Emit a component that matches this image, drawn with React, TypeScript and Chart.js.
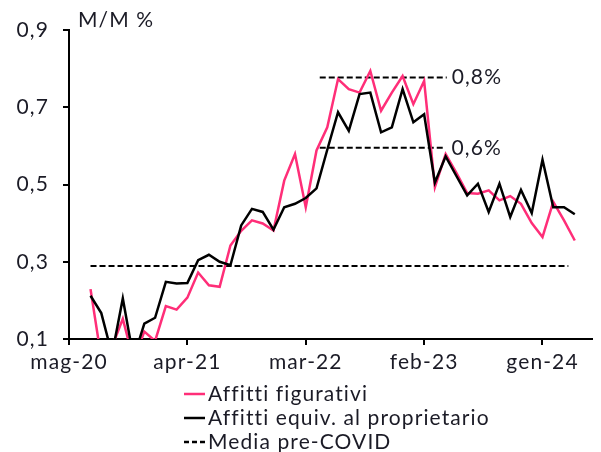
import React, { useEffect, useRef } from "react";
import { Chart, registerables } from "chart.js";

Chart.register(...registerables);

// Monthly categories (index 0 = mag-20)
const months = [
  "mag-20", "giu-20", "lug-20", "ago-20", "set-20", "ott-20", "nov-20", "dic-20",
  "gen-21", "feb-21", "mar-21", "apr-21", "mag-21", "giu-21", "lug-21", "ago-21", "set-21", "ott-21", "nov-21", "dic-21",
  "gen-22", "feb-22", "mar-22", "apr-22", "mag-22", "giu-22", "lug-22", "ago-22", "set-22", "ott-22", "nov-22", "dic-22",
  "gen-23", "feb-23", "mar-23", "apr-23", "mag-23", "giu-23", "lug-23", "ago-23", "set-23", "ott-23", "nov-23", "dic-23",
  "gen-24", "feb-24", "mar-24", "apr-24",
];

const tickLabels = ["mag-20", "apr-21", "mar-22", "feb-23", "gen-24"];

// Affitti figurativi (M/M %)
const figurativi: (number | null)[] = [
  null, null, 0.229, 0.05, 0.08, 0.152, 0.045, 0.119,
  0.095, 0.185, 0.176, 0.207, 0.272, 0.239, 0.235, 0.342, 0.38, 0.407, 0.399, 0.381,
  0.51, 0.579, 0.441, 0.588, 0.648, 0.773, 0.747, 0.738, 0.794, 0.691, 0.738, 0.781,
  0.708, 0.768, 0.493, 0.579, 0.53, 0.478, 0.476, 0.485, 0.459, 0.47, 0.45, 0.40,
  0.364, 0.455, 0.407, 0.355,
];

// Affitti equivalenti al proprietario (M/M %)
const equiv: (number | null)[] = [
  null, null, 0.212, 0.167, 0.06, 0.205, 0.05, 0.14,
  0.155, 0.248, 0.244, 0.245, 0.304, 0.318, 0.30, 0.291, 0.394, 0.437, 0.429, 0.383,
  0.441, 0.45, 0.465, 0.49, 0.59, 0.687, 0.639, 0.734, 0.738, 0.635, 0.648, 0.747,
  0.661, 0.682, 0.505, 0.573, 0.522, 0.472, 0.502, 0.429, 0.502, 0.416, 0.486, 0.426,
  0.564, 0.441, 0.441, 0.423,
];

// Reference averages
const preCovidAvg = 0.289;
const preCovidSpan = [2, 46.4];
const avgHigh = 0.777;
const avgHighSpan = [23.3, 35.1];
const avgLow = 0.595;
const avgLowSpan = [23.3, 34.9];
const avgHighLabel = "0,8%";
const avgLowLabel = "0,6%";

const yTitle = "M/M %";
const legendNames = ["Affitti figurativi", "Affitti equiv. al proprietario", "Media pre-COVID"];

const PINK = "#FF2E78";
const BLACK = "#000000";
const TEXT = "#1b1b26";
const FONT = "Lato";
const FS = 21;
const SPACING = "1.1px";

const toPoints = (arr: (number | null)[]) =>
  arr.map((v, i) => (v === null ? null : { x: i, y: v })).filter((p) => p !== null) as { x: number; y: number }[];

const spanPoints = (span: number[], v: number) => [
  { x: span[0], y: v },
  { x: span[1], y: v },
];

const spacingPlugin = {
  id: "letterSpacing",
  beforeLayout(chart: any) {
    (chart.ctx as any).letterSpacing = SPACING;
  },
  beforeDraw(chart: any) {
    (chart.ctx as any).letterSpacing = SPACING;
  },
};

const overlayPlugin = {
  id: "overlayText",
  afterDraw(chart: any) {
    const { ctx } = chart;
    const x = chart.scales.x;
    const y = chart.scales.y;
    ctx.save();
    (ctx as any).letterSpacing = SPACING;
    ctx.fillStyle = TEXT;
    ctx.font = `${FS}px ${FONT}`;
    ctx.textBaseline = "middle";
    ctx.textAlign = "left";
    // axis title
    ctx.fillText(yTitle, 78, 20);
    // reference labels
    ctx.fillText(avgHighLabel, x.getPixelForValue(avgHighSpan[1]) + 5, y.getPixelForValue(avgHigh));
    ctx.fillText(avgLowLabel, x.getPixelForValue(avgLowSpan[1]) + 7, y.getPixelForValue(avgLow));
    // legend
    const lx0 = 184;
    const lx1 = 205;
    const rows = [394, 418, 442];
    const styles = [
      { color: PINK, dash: [] as number[] },
      { color: BLACK, dash: [] as number[] },
      { color: BLACK, dash: [5, 3] },
    ];
    rows.forEach((ry, i) => {
      ctx.beginPath();
      ctx.strokeStyle = styles[i].color;
      ctx.lineWidth = 2.5;
      ctx.setLineDash(styles[i].dash);
      ctx.moveTo(lx0, ry);
      ctx.lineTo(lx1, ry);
      ctx.stroke();
      ctx.setLineDash([]);
      ctx.fillStyle = TEXT;
      ctx.fillText(legendNames[i], lx1 + 3, ry);
    });
    ctx.restore();
  },
};

export default function App() {
  const canvasRef = useRef<HTMLCanvasElement | null>(null);

  useEffect(() => {
    if (!canvasRef.current) return;
    const tickValues = tickLabels.map((l) => months.indexOf(l));
    const chart = new Chart(canvasRef.current, {
      type: "line",
      data: {
        datasets: [
          {
            label: legendNames[0],
            data: toPoints(figurativi),
            borderColor: PINK,
            borderWidth: 2.5,
            pointRadius: 0,
            tension: 0,
            order: 2,
          },
          {
            label: legendNames[1],
            data: toPoints(equiv),
            borderColor: BLACK,
            borderWidth: 2.5,
            pointRadius: 0,
            tension: 0,
            order: 1,
          },
          {
            label: legendNames[2],
            data: spanPoints(preCovidSpan, preCovidAvg),
            borderColor: BLACK,
            borderWidth: 2,
            borderDash: [6, 3],
            pointRadius: 0,
            order: 3,
          },
          {
            label: "avgHigh",
            data: spanPoints(avgHighSpan, avgHigh),
            borderColor: BLACK,
            borderWidth: 2,
            borderDash: [6, 3],
            pointRadius: 0,
            order: 3,
          },
          {
            label: "avgLow",
            data: spanPoints(avgLowSpan, avgLow),
            borderColor: BLACK,
            borderWidth: 2,
            borderDash: [6, 3],
            pointRadius: 0,
            order: 3,
          },
        ],
      },
      options: {
        animation: false,
        responsive: false,
        layout: { padding: { left: 0, top: 30, right: 9, bottom: 0 } },
        plugins: {
          legend: { display: false },
          tooltip: { enabled: false },
          title: { display: false },
        },
        scales: {
          x: {
            type: "linear",
            min: 0,
            max: 48.6,
            afterFit: (s: any) => {
              s.height = 452 - 339;
            },
            afterBuildTicks: (s: any) => {
              s.ticks = tickValues.map((v) => ({ value: v }));
            },
            ticks: {
              autoSkip: false,
              maxRotation: 0,
              padding: 5,
              color: TEXT,
              font: { family: FONT, size: FS },
              callback: (v: any) => months[Math.round(Number(v))] ?? "",
            },
            grid: {
              drawOnChartArea: false,
              drawTicks: true,
              tickLength: 6,
              color: BLACK,
              lineWidth: 2,
            },
            border: { display: true, color: BLACK, width: 2 },
          },
          y: {
            type: "linear",
            min: 0.1,
            max: 0.9,
            afterFit: (s: any) => {
              s.width = 69;
            },
            ticks: {
              stepSize: 0.2,
              padding: 14,
              color: TEXT,
              font: { family: FONT, size: FS },
              callback: (v: any) => Number(v).toFixed(1).replace(".", ","),
            },
            grid: {
              drawOnChartArea: false,
              drawTicks: true,
              tickLength: 6,
              color: BLACK,
              lineWidth: 2,
            },
            border: { display: true, color: BLACK, width: 2 },
          },
        },
      },
      plugins: [spacingPlugin, overlayPlugin],
    });
    return () => chart.destroy();
  }, []);

  return (
    <div style={{ position: "absolute", left: 0, top: 0, width: 601, height: 452, background: "#fff" }}>
      <canvas ref={canvasRef} width={601} height={452} />
    </div>
  );
}
